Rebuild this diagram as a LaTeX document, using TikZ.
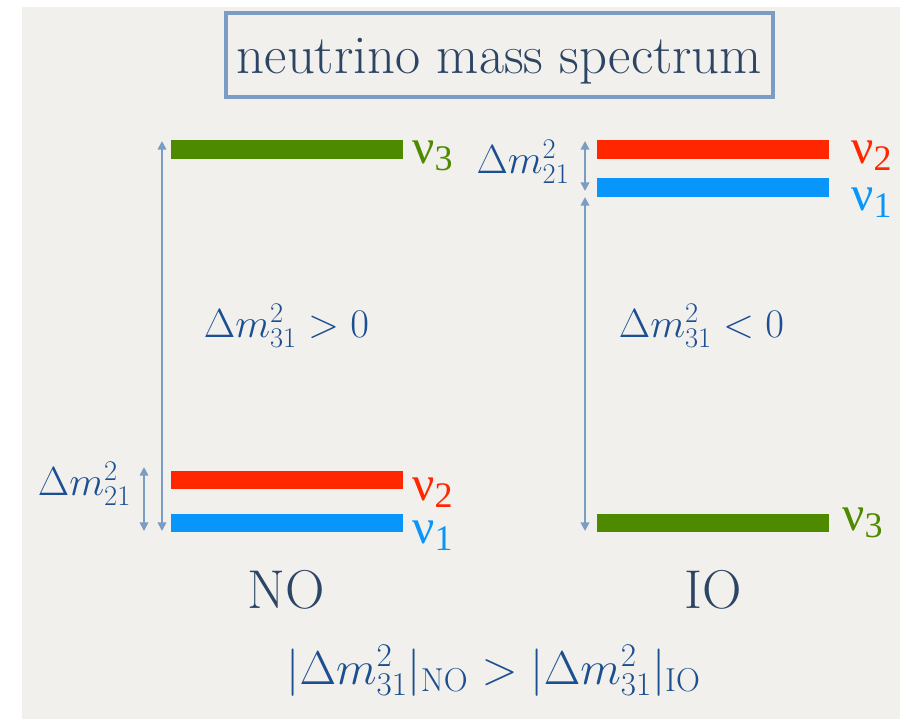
\documentclass[tikz,border=0pt]{standalone}
\usepackage{fix-cm}
\usepackage{fontspec}
\newfontfamily\grk{Liberation Serif}
\usetikzlibrary{arrows.meta,positioning}
\definecolor{paper}{RGB}{242,240,236}
\definecolor{navy}{RGB}{44,69,100}
\definecolor{mathblue}{RGB}{27,79,145}
\definecolor{steel}{RGB}{124,157,195}
\definecolor{nugreen}{RGB}{78,138,0}
\definecolor{nured}{RGB}{255,38,0}
\definecolor{nublue}{RGB}{8,150,250}
\newcommand{\neut}[1]{{\grk ν\raisebox{-0.32ex}{\fontsize{27}{27}\selectfont #1}}}
\tikzset{
  bar/.style={inner sep=0pt, minimum width=174pt, minimum height=13.9pt},
  nulab/.style={anchor=base west, inner sep=0pt, font=\fontsize{37}{40}\selectfont},
  mlab/.style={anchor=base, inner sep=0pt, text=mathblue, font=\fontsize{30.5}{32}\selectfont},
  order/.style={anchor=base, inner sep=0pt, text=navy, font=\fontsize{41}{43}\selectfont},
  gap/.style={steel, line width=1.3pt, {Triangle[length=6.5pt,width=6.5pt]}-{Triangle[length=6.5pt,width=6.5pt]}}
}

\begin{document}
\begin{tikzpicture}[x=0.75pt,y=-0.75pt]
    \useasboundingbox (0,0) rectangle (900,719);
    \fill[white] (0,0) rectangle (900,719);
    \fill[paper] (22,7) rectangle (900,719);

    % title
    \node[draw=steel, line width=3pt, minimum width=410pt, minimum height=63pt,
          text height=27pt, text depth=0pt, text=navy, font=\fontsize{41}{43}\selectfont]
          (title) at (499.5,55) {neutrino mass spectrum};

    % normal ordering
    \node[bar, fill=nugreen] (no3) at (286.5,149.5) {};
    \node[bar, fill=nured] (no2) at (286.5,480) {};
    \node[bar, fill=nublue] (no1) at (286.5,523) {};
    \node[nulab, text=nugreen] (no3lab) at (412,163) {\neut{3}};
    \node[nulab, text=nured] (no2lab) at (412,500) {\neut{2}};
    \node[nulab, text=nublue] (no1lab) at (412,543) {\neut{1}};
    \coordinate (noTop) at (162,141);
    \coordinate (noBot) at (162,531);
    \coordinate (noSolTop) at (144,467);
    \coordinate (noSolBot) at (144,531);
    \draw[gap] (noBot) -- (noTop);
    \draw[gap] (noSolBot) -- (noSolTop);
    \node[mlab] (noatm) at (286.5,337) {$\Delta m^2_{31} > 0$};
    \node[mlab] (nosol) at (84.5,495) {$\Delta m^2_{21}$};
    \node[order] (nolab) at (286,608) {NO};

    % inverted ordering
    \node[bar, fill=nured] (io2) at (713,149.5) {};
    \node[bar, fill=nublue] (io1) at (713,187.5) {};
    \node[bar, fill=nugreen] (io3) at (713,523) {};
    \node[nulab, text=nured] (io2lab) at (851,163) {\neut{2}};
    \node[nulab, text=nublue] (io1lab) at (851,210) {\neut{1}};
    \node[nulab, text=nugreen] (io3lab) at (842,530) {\neut{3}};
    \coordinate (ioSolTop) at (585,141);
    \coordinate (ioSolBot) at (585,191);
    \coordinate (ioTop) at (585,197);
    \coordinate (ioBot) at (585,531);
    \draw[gap] (ioSolBot) -- (ioSolTop);
    \draw[gap] (ioBot) -- (ioTop);
    \node[mlab] (ioatm) at (701.5,337) {$\Delta m^2_{31} < 0$};
    \node[mlab] (iosol) at (523,173) {$\Delta m^2_{21}$};
    \node[order] (iolab) at (713,608) {IO};

    % comparison
    \node[mlab, font=\fontsize{35.5}{37}\selectfont] (cmp) at (493.5,684)
        {$|\Delta m^2_{31}|_{\mathrm{NO}} > |\Delta m^2_{31}|_{\mathrm{IO}}$};
\end{tikzpicture}
\end{document}
